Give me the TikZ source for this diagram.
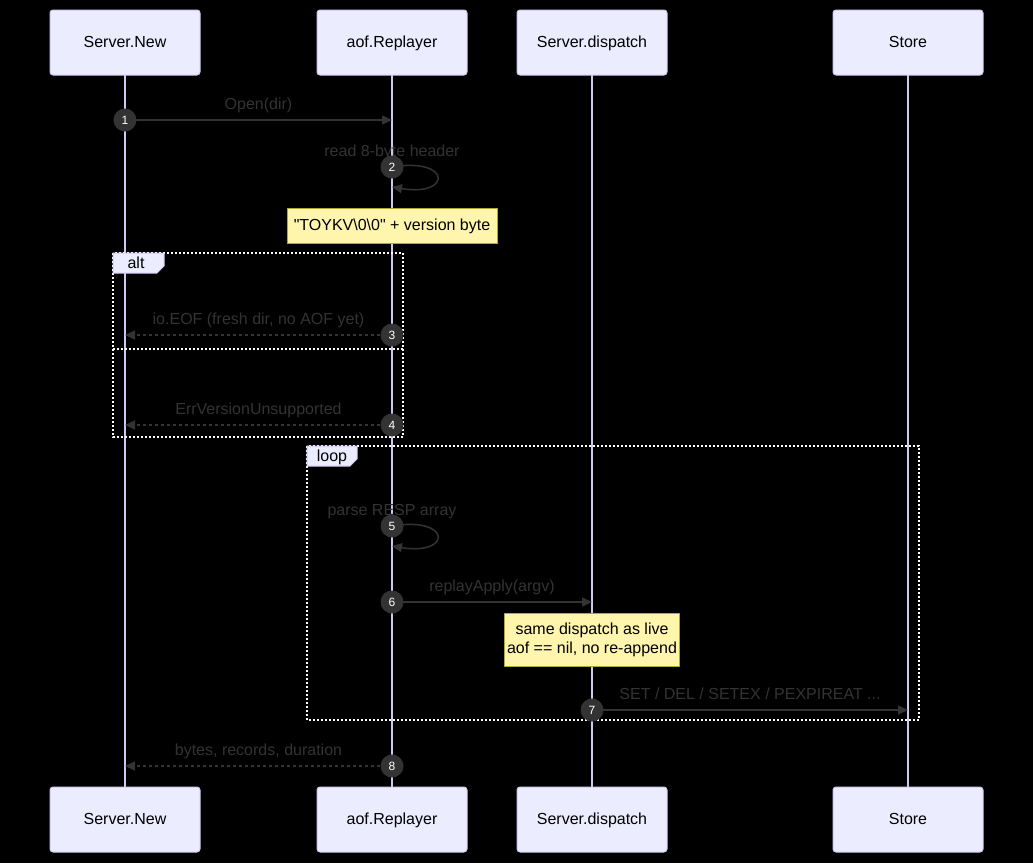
\documentclass[tikz,border=0pt]{standalone}
\usepackage{fontspec}
\setmainfont{Liberation Sans}
\usepackage{xcolor}
\definecolor{ActorFill}{HTML}{ECECFF}
\definecolor{ActorLine}{HTML}{CFC8F0}
\definecolor{NoteFill}{HTML}{FFF5AD}
\definecolor{NoteLine}{HTML}{AAAA33}
\definecolor{Signal}{HTML}{333333}
\usepackage{tikz}
\usetikzlibrary{arrows.meta, positioning, calc}
\tikzstyle{actor} = [rectangle, draw=ActorLine, fill=ActorFill, text=black, minimum width=150pt, minimum height=65pt, text height=12pt, text depth=3pt, outer sep=0pt, rounded corners=3pt, line width=1pt, font=\fontsize{16}{19}\selectfont]
\tikzstyle{lifeline} = [draw=ActorLine, line width=1.5pt]
\tikzstyle{msg} = [draw=Signal, line width=1.5pt, -{Triangle[length=10pt,width=9pt]}]
\tikzstyle{reply} = [msg, dash pattern=on 3pt off 3pt]
\tikzstyle{seq} = [circle, fill=Signal, text=white, minimum size=23pt, inner sep=0pt, font=\fontsize{12}{14}\selectfont]
\tikzstyle{msgtext} = [text=Signal, inner sep=0pt, text height=12pt, text depth=3pt, font=\fontsize{16}{19}\selectfont]
\tikzstyle{note} = [rectangle, draw=NoteLine, fill=NoteFill, text=black, line width=1pt, align=center, inner sep=0pt, font=\fontsize{16}{19}\selectfont]
\tikzstyle{frame} = [draw=white, line width=2pt, dash pattern=on 2pt off 2pt]
\tikzstyle{tab} = [draw=ActorLine, fill=ActorFill, line width=1pt]
\tikzstyle{tabtext} = [text=black, inner sep=0pt, text height=12pt, text depth=3pt, font=\fontsize{16}{19}\selectfont]

\begin{document}
\begin{tikzpicture}[x=1pt, y=-1pt]
        \fill[black] (0,0) rectangle (1033,863);
        \useasboundingbox (0,0) rectangle (1033,863);

        % participants, top row
        \node [actor] (sn) at (125,42.5) {Server.New};
        \node [actor, right=117pt of sn] (ar) {aof.Replayer};
        \node [actor, right=50pt of ar] (sd) {Server.dispatch};
        \node [actor, right=166pt of sd] (st) {Store};

        % participants, bottom row
        \node [actor, below=712pt of sn] (snB) {Server.New};
        \node [actor, below=712pt of ar] (arB) {aof.Replayer};
        \node [actor, below=712pt of sd] (sdB) {Server.dispatch};
        \node [actor, below=712pt of st] (stB) {Store};

        \draw [lifeline] (sn) -- (snB);
        \draw [lifeline] (ar) -- (arB);
        \draw [lifeline] (sd) -- (sdB);
        \draw [lifeline] (st) -- (stB);

        % frames
        \draw [frame] (113,253) rectangle (403,437);
        \draw [frame] (113,349) -- (403,349);
        \draw [frame] (307,446) rectangle (919,720);

        % 1
        \coordinate (s1) at (sn |- 0,120);
        \coordinate (e1) at (ar |- 0,120);
        \draw [msg] (s1) -- (e1);
        \node [msgtext] (t1) at ($(s1)!0.5!(e1)+(0,-15)$) {Open(dir)};
        \node [seq] (n1) at (s1) {1};

        % 2
        \coordinate (s2) at (ar |- 0,167);
        \coordinate (e2) at (ar |- 0,187);
        \draw [msg] (s2) .. controls +(60,-10) and +(60,10) .. (e2);
        \node [msgtext] (t2) at ($(s2)+(0,-15)$) {read 8-byte header};
        \node [seq] (n2) at (s2) {2};

        \node [note, minimum width=210pt, minimum height=35pt] (note1) at (ar |- 0,226) {\textquotedbl TOYKV\textbackslash0\textbackslash0\textquotedbl{} + version byte};

        % 3
        \coordinate (s3) at (ar |- 0,335);
        \coordinate (e3) at (sn |- 0,335);
        \draw [reply] (s3) -- (e3);
        \node [msgtext] (t3) at ($(s3)!0.5!(e3)+(0,-15)$) {io.EOF (fresh dir, no AOF yet)};
        \node [seq] (n3) at (s3) {3};

        % 4
        \coordinate (s4) at (ar |- 0,425);
        \coordinate (e4) at (sn |- 0,425);
        \draw [reply] (s4) -- (e4);
        \node [msgtext] (t4) at ($(s4)!0.5!(e4)+(0,-15)$) {ErrVersionUnsupported};
        \node [seq] (n4) at (s4) {4};

        % 5
        \coordinate (s5) at (ar |- 0,526);
        \coordinate (e5) at (ar |- 0,546);
        \draw [msg] (s5) .. controls +(60,-10) and +(60,10) .. (e5);
        \node [msgtext] (t5) at ($(s5)+(0,-15)$) {parse RESP array};
        \node [seq] (n5) at (s5) {5};

        % 6
        \coordinate (s6) at (ar |- 0,602);
        \coordinate (e6) at (sd |- 0,602);
        \draw [msg] (s6) -- (e6);
        \node [msgtext] (t6) at ($(s6)!0.5!(e6)+(0,-15)$) {replayApply(argv)};
        \node [seq] (n6) at (s6) {6};

        \node [note, minimum width=175pt, minimum height=53pt] (note2) at (sd |- 0,640) {same dispatch as live\\aof == nil, no re-append};

        % 7
        \coordinate (s7) at (sd |- 0,710);
        \coordinate (e7) at (st |- 0,710);
        \draw [msg] (s7) -- (e7);
        \node [msgtext] (t7) at ($(s7)!0.5!(e7)+(0,-15)$) {SET / DEL / SETEX / PEXPIREAT ...};
        \node [seq] (n7) at (s7) {7};

        % 8
        \coordinate (s8) at (ar |- 0,766);
        \coordinate (e8) at (sn |- 0,766);
        \draw [reply] (s8) -- (e8);
        \node [msgtext] (t8) at ($(s8)!0.5!(e8)+(0,-15)$) {bytes, records, duration};
        \node [seq] (n8) at (s8) {8};

        % frame tabs
        \draw [tab] (113,253) -- (164,253) -- (164,266) -- (157,273) -- (113,273) -- cycle;
        \node [tabtext] (altlbl) at (136,264) {alt};
        \draw [tab] (307,446) -- (357,446) -- (357,459) -- (350,466) -- (307,466) -- cycle;
        \node [tabtext] (looplbl) at (332,457) {loop};
    \end{tikzpicture}
\end{document}
